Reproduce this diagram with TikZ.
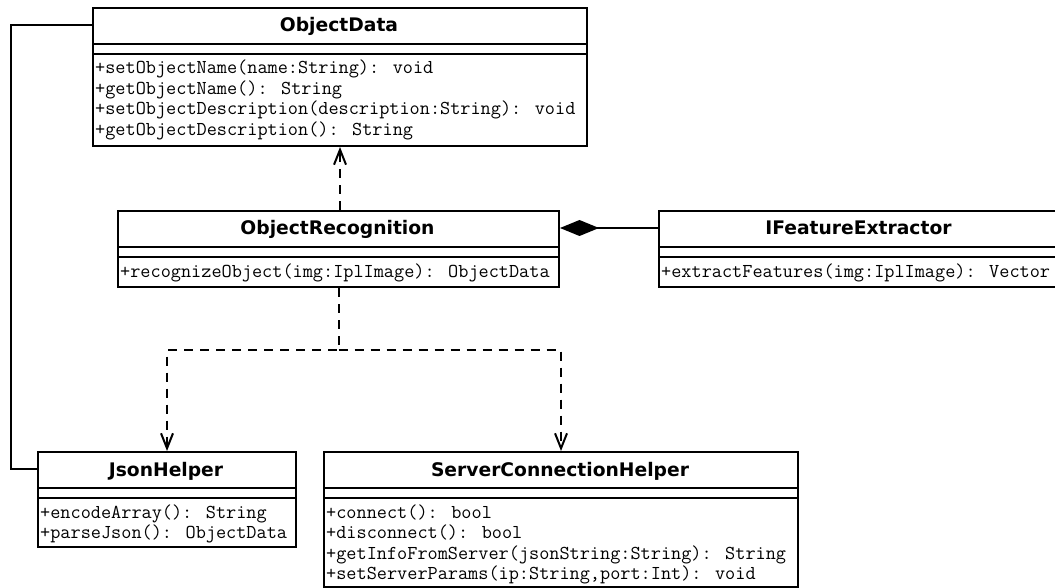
\documentclass[tikz,border=0pt]{standalone}
\usepackage{fontspec}
\setmainfont{DejaVu Sans}
\newfontfamily\umltitlefont{DejaVu Sans}
\newfontfamily\umlmonofont{Latin Modern Mono}
\usetikzlibrary{arrows.meta}

\tikzset{
  umlbox/.style={draw, line width=2pt, rectangle, inner sep=0pt, anchor=north west},
  umltitle/.style={anchor=base, inner sep=0pt,
    font=\umltitlefont\bfseries\fontsize{18.7}{20}\selectfont},
  member/.style={anchor=base west, inner sep=0pt,
    font=\umlmonofont\fontsize{19.7}{20}\selectfont},
  umlsep/.style={line width=2pt},
  realize/.style={line width=2pt, dash pattern=on 9pt off 7pt,
    -{Straight Barb[length=15pt,width=12pt,line width=2pt]}},
  assoc/.style={line width=2pt},
  compose/.style={line width=2pt, -{Diamond[length=39pt,width=16pt]}},
}

% class box: name, left, top, right, bottom, title
\newcommand\umlclass[6]{%
  \node[umlbox, minimum width={(#4-#2)*1pt}, minimum height={(#5-#3)*1pt}] (#1) at (#2,#3) {};
  \node[umltitle] (#1-t) at ({(#2+#4)/2},{#3+25}) {#6};
  \coordinate (#1-h) at (#2,{#3+18});
  \draw[umlsep] (#2,{#3+37}) -- (#4,{#3+37});
  \draw[umlsep] (#2,{#3+47}) -- (#4,{#3+47});
}

\begin{document}
\begin{tikzpicture}[x=1pt, y=-1pt]
\useasboundingbox (0,0) rectangle (1055,588);
\clip (0,0) rectangle (1055,588);

% ObjectData
\umlclass{od}{92}{7}{586}{145}{ObjectData}
\node[member] (od-m1) at (95,74)    {+setObjectName(name:String): void};
\node[member] (od-m2) at (95,94.5)  {+getObjectName(): String};
\node[member] (od-m3) at (95,115)   {+setObjectDescription(description:String): void};
\node[member] (od-m4) at (95,135.5) {+getObjectDescription(): String};

% ObjectRecognition
\umlclass{or}{117}{210}{558}{286}{ObjectRecognition}
\node[member] (or-m1) at (120,277) {+recognizeObject(img:IplImage): ObjectData};

% IFeatureExtractor
\umlclass{ife}{658}{210}{1059}{286}{IFeatureExtractor}
\node[member] (ife-m1) at (661,277) {+extractFeatures(img:IplImage): Vector};

% JsonHelper
\umlclass{jh}{37}{451}{295}{546}{JsonHelper}
\node[member] (jh-m1) at (40,518)   {+encodeArray(): String};
\node[member] (jh-m2) at (40,538.5) {+parseJson(): ObjectData};

% ServerConnectionHelper
\umlclass{sch}{323}{451}{797}{586}{ServerConnectionHelper}
\node[member] (sch-m1) at (326,518)   {+connect(): bool};
\node[member] (sch-m2) at (326,538.5) {+disconnect(): bool};
\node[member] (sch-m3) at (326,559)   {+getInfoFromServer(jsonString:String): String};
\node[member] (sch-m4) at (326,579.5) {+setServerParams(ip:String,port:Int): void};

% connectors
\coordinate (rail) at (11,0);
\coordinate (fork) at (339,350);

\draw[assoc] (od.west |- od-h) -- (od-h -| rail) -- (jh-h -| rail) -- (jh.west |- jh-h);
\draw[realize] (od.south |- or.north) -- (od.south);
\draw[realize] (or.south) -- (or.south |- fork) -| (jh.north);
\draw[realize] (or.south |- fork) -| (sch.north);
\draw[compose] (ife.west |- ife-h) -- (or.east |- ife-h);
\end{tikzpicture}
\end{document}
